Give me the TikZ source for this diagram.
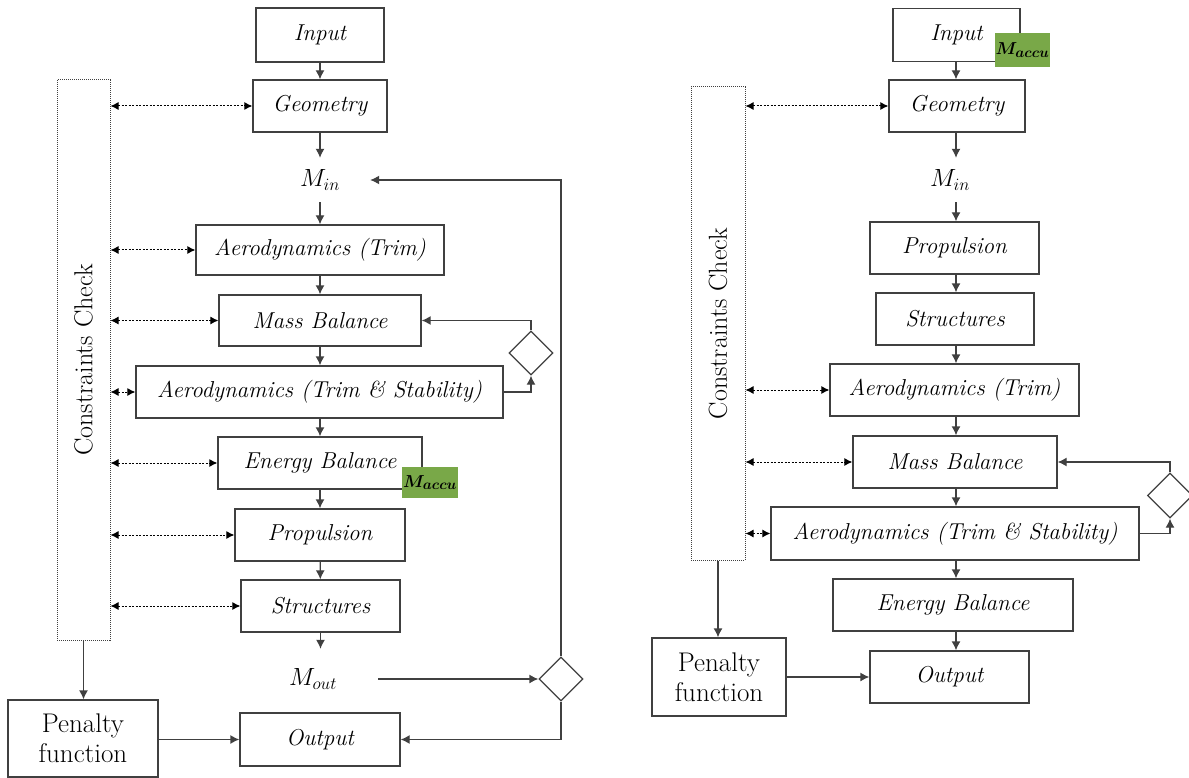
\documentclass[tikz,border=0pt]{standalone}
\usepackage{bm}
\usetikzlibrary{arrows.meta,shapes.geometric}
\definecolor{linec}{HTML}{404040}
\definecolor{accu}{RGB}{121,168,72}
\newcommand\fsz{\fontsize{23}{27}\selectfont}
\newcommand\fszp{\fontsize{27}{30}\selectfont}
\newcommand\fszc{\fontsize{26}{30}\selectfont}
\newcommand\fsza{\fontsize{19}{22}\selectfont}
\tikzset{
  box/.style={draw=linec,line width=1.3pt,inner sep=0pt,font=\fsz\itshape,text=black},
  plainbox/.style={draw=linec,line width=1.3pt,inner sep=0pt,font=\fszp,text=black,align=center},
  conbox/.style={draw=linec,line width=1pt,densely dotted,inner sep=0pt},
  dia/.style={draw=linec,line width=1.3pt,diamond,aspect=1,inner sep=0pt},
  accubox/.style={fill=accu,inner sep=0pt,font=\fsza},
  lbl/.style={inner sep=0pt,font=\fsz},
  arr/.style={draw=linec,line width=1.3pt,-{Latex[length=9pt,width=9pt]}},
  darr/.style={draw=black,line width=1pt,dash pattern=on 2pt off 1.5pt,{Latex[length=8pt,width=8pt]}-{Latex[length=8pt,width=8pt]}}
}
\begin{document}
\begin{tikzpicture}[x=1pt,y=-1pt]
\useasboundingbox (0,0) rectangle (1189,778);
% ---------------- left diagram ----------------
\node[box,minimum width=128,minimum height=54] (inL) at (320,35) {Input};
\node[box,minimum width=134,minimum height=52] (geoL) at (320,106) {Geometry};
\node[lbl,minimum width=100,minimum height=44] (MinL) at (320,180) {$M_{in}$};
\node[box,minimum width=248,minimum height=50] (aeroL) at (320,250) {Aerodynamics (Trim)};
\node[box,minimum width=202,minimum height=51] (massL) at (320,320.5) {Mass Balance};
\node[box,minimum width=367,minimum height=52] (atsL) at (319.5,392) {Aerodynamics (Trim \& Stability)};
\node[box,minimum width=204,minimum height=52] (enL) at (320,463) {Energy Balance};
\node[accubox,minimum width=56,minimum height=31] (maccL) at (430,482.5) {$\bm{M_{accu}}$};
\node[box,minimum width=170,minimum height=52] (propL) at (320,535) {Propulsion};
\node[box,minimum width=159,minimum height=52] (strL) at (320.5,606) {Structures};
\node[lbl,minimum width=130,minimum height=60] (MoutL) at (313,679) {$M_{out}$};
\node[box,minimum width=160,minimum height=53] (outL) at (320,739.5) {Output};
\node[plainbox,minimum width=150,minimum height=77] (penL) at (83,738.5) {Penalty\\function};
\node[conbox,minimum width=53,minimum height=560] (conL) at (83.5,360) {};
\node[lbl,font=\fszc,rotate=90] (conLt) at (83.5,360) {Constraints Check};
\node[dia,minimum width=44,minimum height=44] (d1L) at (531,353) {};
\node[dia,minimum width=44,minimum height=44] (d2L) at (561,679) {};
% main chain
\draw[arr] (inL) -- (geoL);
\draw[arr] (geoL) -- (MinL);
\draw[arr] (MinL) -- (aeroL);
\draw[arr] (aeroL) -- (massL);
\draw[arr] (massL) -- (atsL.north -| massL.south);
\draw[arr] (atsL.south -| enL.north) -- (enL);
\draw[arr] (enL) -- (propL);
\draw[arr] (propL) -- (strL);
\draw[arr] (strL.south) -- (strL.south |- MoutL.north);
% loops
\draw[arr] (atsL.east) -| (d1L.south);
\draw[arr] (d1L.north) |- (massL.east);
\draw[arr] (MoutL.east) -- (d2L.west);
\draw[arr] (d2L.north) |- (MinL.east);
\draw[arr] (d2L.south) |- (outL.east);
\draw[arr] (conL.south) -- (conL.south |- penL.north);
\draw[arr] (penL.east |- outL.west) -- (outL.west);
% constraint links
\foreach \n in {geoL,aeroL,massL,atsL,enL,propL,strL}
  \draw[darr] (conL.east |- \n.west) -- (\n.west);
% ---------------- right diagram ----------------
\node[box,minimum width=127,minimum height=53] (inR) at (956.5,35) {Input};
\node[accubox,minimum width=55,minimum height=34] (maccR) at (1022.5,50) {$\bm{M_{accu}}$};
\node[box,minimum width=136,minimum height=52] (geoR) at (957,106) {Geometry};
\node[lbl,minimum width=60,minimum height=44] (MinR) at (950,180) {$M_{in}$};
\node[box,minimum width=169,minimum height=52] (propR) at (954.5,248) {Propulsion};
\node[box,minimum width=158,minimum height=52] (strR) at (955,319) {Structures};
\node[box,minimum width=249,minimum height=52] (aeroR) at (954.5,390) {Aerodynamics (Trim)};
\node[box,minimum width=204,minimum height=52] (massR) at (955,462) {Mass Balance};
\node[box,minimum width=368,minimum height=53] (atsR) at (955,533.5) {Aerodynamics (Trim \& Stability)};
\node[box,minimum width=240,minimum height=52] (enR) at (953,605) {Energy Balance};
\node[box,minimum width=159,minimum height=52] (outR) at (949.5,677) {Output};
\node[plainbox,minimum width=134,minimum height=78] (penR) at (719,677) {Penalty\\function};
\node[conbox,minimum width=54,minimum height=473] (conR) at (718,323.5) {};
\node[lbl,font=\fszc,rotate=90] (conRt) at (718,323.5) {Constraints Check};
\node[dia,minimum width=45,minimum height=45] (dR) at (1170,495.5) {};
% chain
\draw[arr] (inR.south -| 956,0) -- (geoR.north -| 956,0);
\draw[arr] (geoR.south -| 956,0) -- (MinR.north -| 956,0);
\draw[arr] (MinR.south -| 956,0) -- (propR.north -| 956,0);
\draw[arr] (propR.south -| 956,0) -- (strR.north -| 956,0);
\draw[arr] (strR.south -| 956,0) -- (aeroR.north -| 956,0);
\draw[arr] (aeroR.south -| 956,0) -- (massR.north -| 956,0);
\draw[arr] (massR.south -| 956,0) -- (atsR.north -| 956,0);
\draw[arr] (atsR.south -| 956,0) -- (enR.north -| 956,0);
\draw[arr] (enR.south -| 956,0) -- (outR.north -| 956,0);
% loop
\draw[arr] (atsR.east) -| (dR.south);
\draw[arr] (dR.north) |- (massR.east);
\draw[arr] (conR.south) -- (conR.south |- penR.north);
\draw[arr] (penR.east) -- (outR.west);
\foreach \n in {geoR,aeroR,massR,atsR}
  \draw[darr] (conR.east |- \n.west) -- (\n.west);
\end{tikzpicture}
\end{document}
